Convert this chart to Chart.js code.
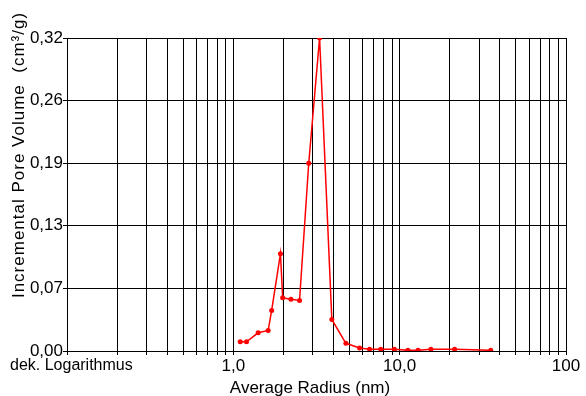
<!DOCTYPE html>
<html>
<head>
<meta charset="utf-8">
<script src="https://cdn.jsdelivr.net/npm/chart.js@4/dist/chart.umd.min.js"></script>
<style>
  html, body { margin: 0; padding: 0; background: #fff; }
  canvas { display: block; }
</style>
</head>
<body>
<canvas id="poreChart" width="586" height="396"></canvas>
<script>
// average radius (nm) and incremental pore volume (cm3/g)
const radius = [1.10, 1.20, 1.41, 1.62, 1.70, 1.92, 1.98, 2.22, 2.50, 2.84, 3.30,
                3.91, 4.75, 5.74, 6.59, 7.69, 9.29, 11.2, 12.9, 15.4, 21.4, 35.3];
const poreVolume = [0.0096, 0.0096, 0.0189, 0.0214, 0.0421, 0.1011, 0.0552, 0.0538, 0.0525, 0.1949, 0.3250,
                    0.0328, 0.0080, 0.0031, 0.0018, 0.0018, 0.0018, 0.0007, 0.0007, 0.0018, 0.0018, 0.0007];

// axis ticks
const xTicks = [0.1, 0.2, 0.3, 0.4, 0.5, 0.6, 0.7, 0.8, 0.9,
                1, 2, 3, 4, 5, 6, 7, 8, 9,
                10, 20, 30, 40, 50, 60, 70, 80, 90, 100];
const xTickLabels = { 1: '1,0', 10: '10,0', 100: '100' };
const yTicks = [0, 0.065, 0.13, 0.195, 0.26, 0.325];
const yTickLabels = ['0,00', '0,07', '0,13', '0,19', '0,26', '0,32'];

const yTitle = 'Incremental Pore Volume  (cm\u00b3/g)';
const xTitle = 'Average Radius (nm)';
const scaleNote = 'dek. Logarithmus';

const FONT = '"Liberation Sans", Arial, sans-serif';

const textPlugin = {
  id: 'extraText',
  afterDraw(chart) {
    const ctx = chart.ctx;
    ctx.save();
    ctx.fillStyle = '#000';
    ctx.font = '16px ' + FONT;
    ctx.textBaseline = 'middle';
    ctx.textAlign = 'left';
    ctx.fillText(scaleNote, 10, 366);

    ctx.font = '17px ' + FONT;
    ctx.textAlign = 'center';
    ctx.fillText(xTitle, 310, 388);

    ctx.translate(19, 155);
    ctx.rotate(-Math.PI / 2);
    ctx.letterSpacing = '1px';
    ctx.fillText(yTitle, 0, 0);
    ctx.restore();
  }
};

const ctx = document.getElementById('poreChart').getContext('2d');
const chart = new Chart(ctx, {
  type: 'line',
  data: {
    datasets: [{
      data: radius.map((r, i) => ({ x: r, y: poreVolume[i] })),
      borderColor: '#ff0000',
      backgroundColor: '#ff0000',
      borderWidth: 1.5,
      pointRadius: 2.5,
      pointBorderWidth: 0,
      tension: 0,
      fill: false
    }]
  },
  options: {
    responsive: false,
    animation: false,
    layout: { padding: { top: 38, right: 20, left: 0, bottom: 0 } },
    plugins: {
      legend: { display: false },
      tooltip: { enabled: false }
    },
    scales: {
      x: {
        type: 'logarithmic',
        min: 0.1,
        max: 100,
        afterBuildTicks: (scale) => { scale.ticks = xTicks.map(v => ({ value: v })); },
        afterFit: (scale) => { scale.height = 45; },
        grid: { color: '#000', lineWidth: 1, tickLength: 4, drawTicks: true },
        border: { color: '#000', width: 1 },
        ticks: {
          autoSkip: false,
          maxRotation: 0,
          padding: 1,
          color: '#000',
          font: { family: FONT, size: 17 },
          callback: (v) => xTickLabels[v] || ''
        }
      },
      y: {
        min: 0,
        max: 0.325,
        afterBuildTicks: (scale) => { scale.ticks = yTicks.map(v => ({ value: v })); },
        afterFit: (scale) => { scale.width = 67; },
        grid: { color: '#000', lineWidth: 1, tickLength: 4, drawTicks: true },
        border: { color: '#000', width: 1 },
        ticks: {
          padding: 0,
          color: '#000',
          font: { family: FONT, size: 17 },
          callback: (v, i) => yTickLabels[i]
        }
      }
    }
  },
  plugins: [textPlugin]
});
</script>
</body>
</html>
